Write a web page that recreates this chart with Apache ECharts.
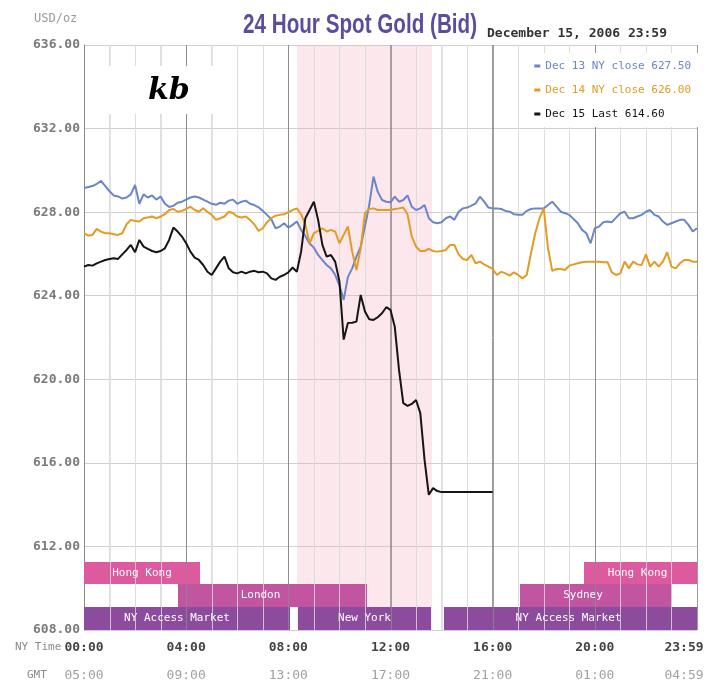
<!DOCTYPE html>
<html>
<head>
<meta charset="utf-8">
<script src="https://cdn.jsdelivr.net/npm/echarts@6/dist/echarts.min.js"></script>
<style>
html,body{margin:0;padding:0;background:#fff;}
#c{width:705px;height:696px;}
</style>
</head>
<body>
<div id="c"></div>
<script>
// ---- data (10-minute samples, NY time, starting 00:00) ----
const stepMinutes = 10;

const dec13 = [
629.15,629.20,629.25,629.35,629.50,629.25,
629.00,628.80,628.75,628.65,628.70,628.85,
629.30,628.40,628.85,628.70,628.80,628.60,
628.75,628.40,628.25,628.30,628.45,628.50,
628.60,628.70,628.75,628.70,628.60,628.50,
628.40,628.35,628.45,628.40,628.55,628.60,
628.40,628.50,628.55,628.40,628.34,628.23,
628.06,627.87,627.66,627.23,627.31,627.47,
627.26,627.39,627.55,627.15,626.85,626.50,
626.30,625.95,625.70,625.47,625.31,625.00,
624.50,623.80,624.90,625.31,625.87,626.35,
627.31,628.34,629.70,628.98,628.58,628.50,
628.47,628.74,628.50,628.58,628.80,628.26,
628.10,628.18,628.34,627.71,627.52,627.47,
627.52,627.71,627.79,627.63,628.02,628.18,
628.22,628.31,628.42,628.74,628.50,628.22,
628.18,628.18,628.15,628.06,628.02,627.90,
627.87,627.87,628.06,628.15,628.18,628.18,
628.18,628.34,628.50,628.26,628.02,627.95,
627.87,627.67,627.47,627.15,626.99,626.51,
627.23,627.31,627.52,627.55,627.52,627.74,
627.95,628.02,627.71,627.71,627.79,627.87,
628.02,628.10,627.87,627.79,627.55,627.39,
627.47,627.55,627.63,627.63,627.39,627.07,
627.23
];

const dec14 = [
626.99,626.88,626.91,627.20,627.07,626.99,
626.99,626.94,626.91,626.99,627.42,627.63,
627.58,627.55,627.71,627.75,627.79,627.71,
627.79,627.90,628.10,628.15,628.02,628.06,
628.15,628.26,628.10,628.02,628.18,628.02,
627.87,627.63,627.71,627.79,628.02,627.95,
627.79,627.74,627.79,627.63,627.42,627.10,
627.23,627.52,627.71,627.83,627.87,627.90,
628.00,628.10,628.18,627.90,627.39,626.51,
626.99,627.10,627.23,627.07,627.15,627.07,
626.51,626.91,627.31,626.11,625.23,626.27,
627.95,628.15,628.18,628.10,628.10,628.10,
628.10,628.15,628.18,628.22,627.90,626.83,
626.35,626.14,626.14,626.24,626.14,626.11,
626.14,626.19,626.43,626.43,625.98,625.76,
625.71,625.95,625.55,625.63,625.50,625.39,
625.28,624.99,625.15,625.07,624.96,625.12,
624.99,624.83,624.99,626.03,626.99,627.71,
628.18,626.27,625.19,625.28,625.28,625.23,
625.44,625.50,625.55,625.60,625.63,625.63,
625.63,625.63,625.60,625.60,625.12,624.99,
625.07,625.63,625.31,625.63,625.50,625.47,
625.98,625.39,625.63,625.39,625.63,626.08,
625.39,625.31,625.55,625.71,625.71,625.63,
625.63
];

const dec15 = [
625.39,625.47,625.44,625.55,625.63,625.71,
625.76,625.79,625.76,625.98,626.19,626.43,
626.08,626.67,626.35,626.24,626.14,626.08,
626.14,626.27,626.67,627.26,627.07,626.83,
626.51,626.11,625.82,625.71,625.47,625.15,
624.99,625.31,625.63,625.87,625.31,625.12,
625.07,625.15,625.07,625.15,625.19,625.12,
625.15,625.07,624.83,624.76,624.91,624.99,
625.12,625.35,625.15,626.11,627.71,628.10,
628.50,627.63,626.43,625.87,625.95,625.63,
624.70,621.90,622.70,622.71,622.76,624.04,
623.24,622.87,622.84,622.97,623.16,623.45,
623.32,622.52,620.45,618.86,618.73,618.82,
619.01,618.38,616.14,614.47,614.79,614.65,
614.60,614.60,614.60,614.60,614.60,614.60,
614.60,614.60,614.60,614.60,614.60,614.60,
614.60
];

const seriesNames  = ['Dec 13 NY close 627.50', 'Dec 14 NY close 626.00', 'Dec 15 Last 614.60'];
const seriesColors = ['#6b86c6', '#e39b22', '#151515'];

// x-axis tick labels (minutes after NY midnight)
const tickMinutes = [0, 240, 480, 720, 960, 1200, 1440];
const nyLabels    = ['00:00', '04:00', '08:00', '12:00', '16:00', '20:00', '23:59'];
const gmtLabels   = ['05:00', '09:00', '13:00', '17:00', '21:00', '01:00', '04:59'];

// COMEX session shading (minutes)
const comexStart = 500;
const comexEnd   = 818;

// market session bars
const marketNames = ['Hong Kong', 'London', 'NY Access Market', 'New York', 'NY Access Market', 'Sydney', 'Hong Kong'];
const marketStart = [0, 221, 0, 502, 845, 1024, 1174];
const marketEnd   = [273, 664, 483, 816, 1440, 1382, 1440];
const marketRow   = [2, 1, 0, 0, 0, 1, 2];
const rowBottom   = [608.0, 609.1, 610.2];
const rowTop      = [609.1, 610.2, 611.25];

// ---- styling (kept apart from data) ----
const rowColors   = ['#8c4b9c', '#c2559f', '#dd5a9f'];
const labelShift  = [0, -12, -10, 0, -2, -13, -3];
const mono = "'DejaVu Sans Mono', monospace";
const toPairs = arr => arr.map((v, i) => [i * stepMinutes, v]);

const chart = echarts.init(document.getElementById('c'), null, {renderer: 'canvas'});

// background blocks: COMEX shading + market session bars
const blockData = [[comexStart, comexEnd, 608, 636]].concat(
  marketNames.map((n, i) => [marketStart[i], marketEnd[i], rowBottom[marketRow[i]], rowTop[marketRow[i]]])
);
function renderBlock(params, api) {
  const i = params.dataIndex;
  const p0 = api.coord([api.value(0), api.value(3)]);
  const p1 = api.coord([api.value(1), api.value(2)]);
  const x0 = Math.round(p0[0]), x1 = Math.round(p1[0]);
  const y0 = Math.round(p0[1]), y1 = Math.round(p1[1]);
  const rect = {type: 'rect', shape: {x: x0, y: y0, width: x1 - x0, height: y1 - y0},
                style: {fill: i === 0 ? 'rgba(245,160,185,0.25)' : rowColors[marketRow[i - 1]]}};
  if (i === 0) return rect;
  return {type: 'group', children: [rect, {
    type: 'text', x: (x0 + x1) / 2 + labelShift[i - 1], y: (y0 + y1) / 2,
    style: {text: marketNames[i - 1], fill: '#ffffff', font: "11px 'DejaVu Sans Mono'", textAlign: 'center', textVerticalAlign: 'middle'}
  }]};
}

// hourly vertical grid lines drawn above the blocks
const hourMarks = [];
for (let m = 60; m < 1440; m += 60) hourMarks.push([m]);
function renderHour(params, api) {
  const m = api.value(0);
  const p0 = api.coord([m, 636]);
  const p1 = api.coord([m, 608]);
  const x = Math.round(p0[0]) + 0.5;
  return {type: 'line', shape: {x1: x, y1: p0[1], x2: x, y2: p1[1]},
          style: {stroke: (m % 240 === 0) ? '#8a8a8a' : '#dcdcdc', lineWidth: 1, opacity: 0.8}};
}

const option = {
  animation: false,
  backgroundColor: '#ffffff',
  grid: {left: 84, right: 8, top: 45, bottom: 66, containLabel: false, outerBoundsMode: 'none'},
  xAxis: {
    type: 'value', min: 0, max: 1440, interval: 60,
    axisLine: {show: false},
    axisTick: {show: false},
    splitLine: {show: true, lineStyle: {color: ['#8a8a8a', '#d8d8d8', '#d8d8d8', '#d8d8d8'], width: 1, opacity: 0.85}},
    axisLabel: {
      margin: 4,
      formatter: function (v) {
        const i = tickMinutes.indexOf(v);
        if (i < 0) return '';
        const s = (i === tickMinutes.length - 1) ? 'e' : '';
        return '{a' + s + '|' + nyLabels[i] + '}\n{b' + s + '|' + gmtLabels[i] + '}';
      },
      rich: {
        a:  {fontFamily: mono, fontSize: 13, fontWeight: 'bold', color: '#444', lineHeight: 28},
        b:  {fontFamily: mono, fontSize: 13, color: '#a0a0a0', lineHeight: 28},
        ae: {fontFamily: mono, fontSize: 13, fontWeight: 'bold', color: '#444', lineHeight: 28, padding: [0, 26, 0, 0]},
        be: {fontFamily: mono, fontSize: 13, color: '#a0a0a0', lineHeight: 28, padding: [0, 26, 0, 0]}
      }
    }
  },
  yAxis: {
    type: 'value', min: 608, max: 636, interval: 4,
    axisLine: {show: true, lineStyle: {color: '#888'}},
    axisTick: {show: false},
    splitLine: {show: true, lineStyle: {color: '#d0d0d0'}},
    axisLabel: {
      margin: 4,
      formatter: v => v.toFixed(2),
      fontFamily: mono, fontSize: 13, fontWeight: 'bold', color: '#7a7a7a'
    }
  },
  legend: {
    orient: 'vertical',
    right: 6, top: 53,
    backgroundColor: '#ffffff',
    padding: [6, 8, 6, 8],
    itemGap: 10,
    itemWidth: 6, itemHeight: 3,
    icon: 'rect',
    selectedMode: false,
    z: 20,
    textStyle: {fontFamily: mono, fontSize: 11, lineHeight: 14},
    data: seriesNames.map((n, i) => ({name: n, itemStyle: {color: seriesColors[i]}, textStyle: {color: seriesColors[i]}}))
  },
  graphic: [
    {type: 'text', left: 34, top: 13, z: 10, style: {text: 'USD/oz', font: "12px 'DejaVu Sans Mono'", fill: '#9a9a9a'}},
    {type: 'text', x: 243, y: 12, scaleX: 0.765, z: 10, style: {x: 0, y: 0, text: '24 Hour Spot Gold (Bid)', font: "bold 27px 'Liberation Sans', sans-serif", fill: '#5b4d9e', textVerticalAlign: 'top'}},
    {type: 'text', left: 487, top: 27, z: 10, style: {text: 'December 15, 2006 23:59', font: "bold 13px 'DejaVu Sans Mono'", fill: '#333'}},
    {type: 'text', left: 15, top: 642, z: 10, style: {text: 'NY Time', font: "11px 'DejaVu Sans Mono'", fill: '#8a8a8a'}},
    {type: 'text', left: 27, top: 670, z: 10, style: {text: 'GMT', font: "11px 'DejaVu Sans Mono'", fill: '#8a8a8a'}},
    {type: 'rect', z: 10, shape: {x: 100, y: 66, width: 115, height: 48}, style: {fill: '#ffffff'}},
    {type: 'text', left: 148, top: 76, z: 11, style: {text: 'kb', font: "bold italic 30px 'DejaVu Serif'", fill: '#000'}}
  ],
  series: [
    {name: 'sessions', type: 'custom', data: blockData, renderItem: renderBlock, z: 1, silent: true, clip: true},
    {name: 'hourGrid', type: 'custom', data: hourMarks, renderItem: renderHour, z: 2, silent: true},
    {name: seriesNames[0], type: 'line', data: toPairs(dec13), showSymbol: false, symbol: 'none', z: 3,
     lineStyle: {color: seriesColors[0], width: 2}, itemStyle: {color: seriesColors[0]}},
    {name: seriesNames[1], type: 'line', data: toPairs(dec14), showSymbol: false, symbol: 'none', z: 4,
     lineStyle: {color: seriesColors[1], width: 2}, itemStyle: {color: seriesColors[1]}},
    {name: seriesNames[2], type: 'line', data: toPairs(dec15), showSymbol: false, symbol: 'none', z: 5,
     lineStyle: {color: seriesColors[2], width: 2}, itemStyle: {color: seriesColors[2]}}
  ]
};

chart.setOption(option);
</script>
</body>
</html>
